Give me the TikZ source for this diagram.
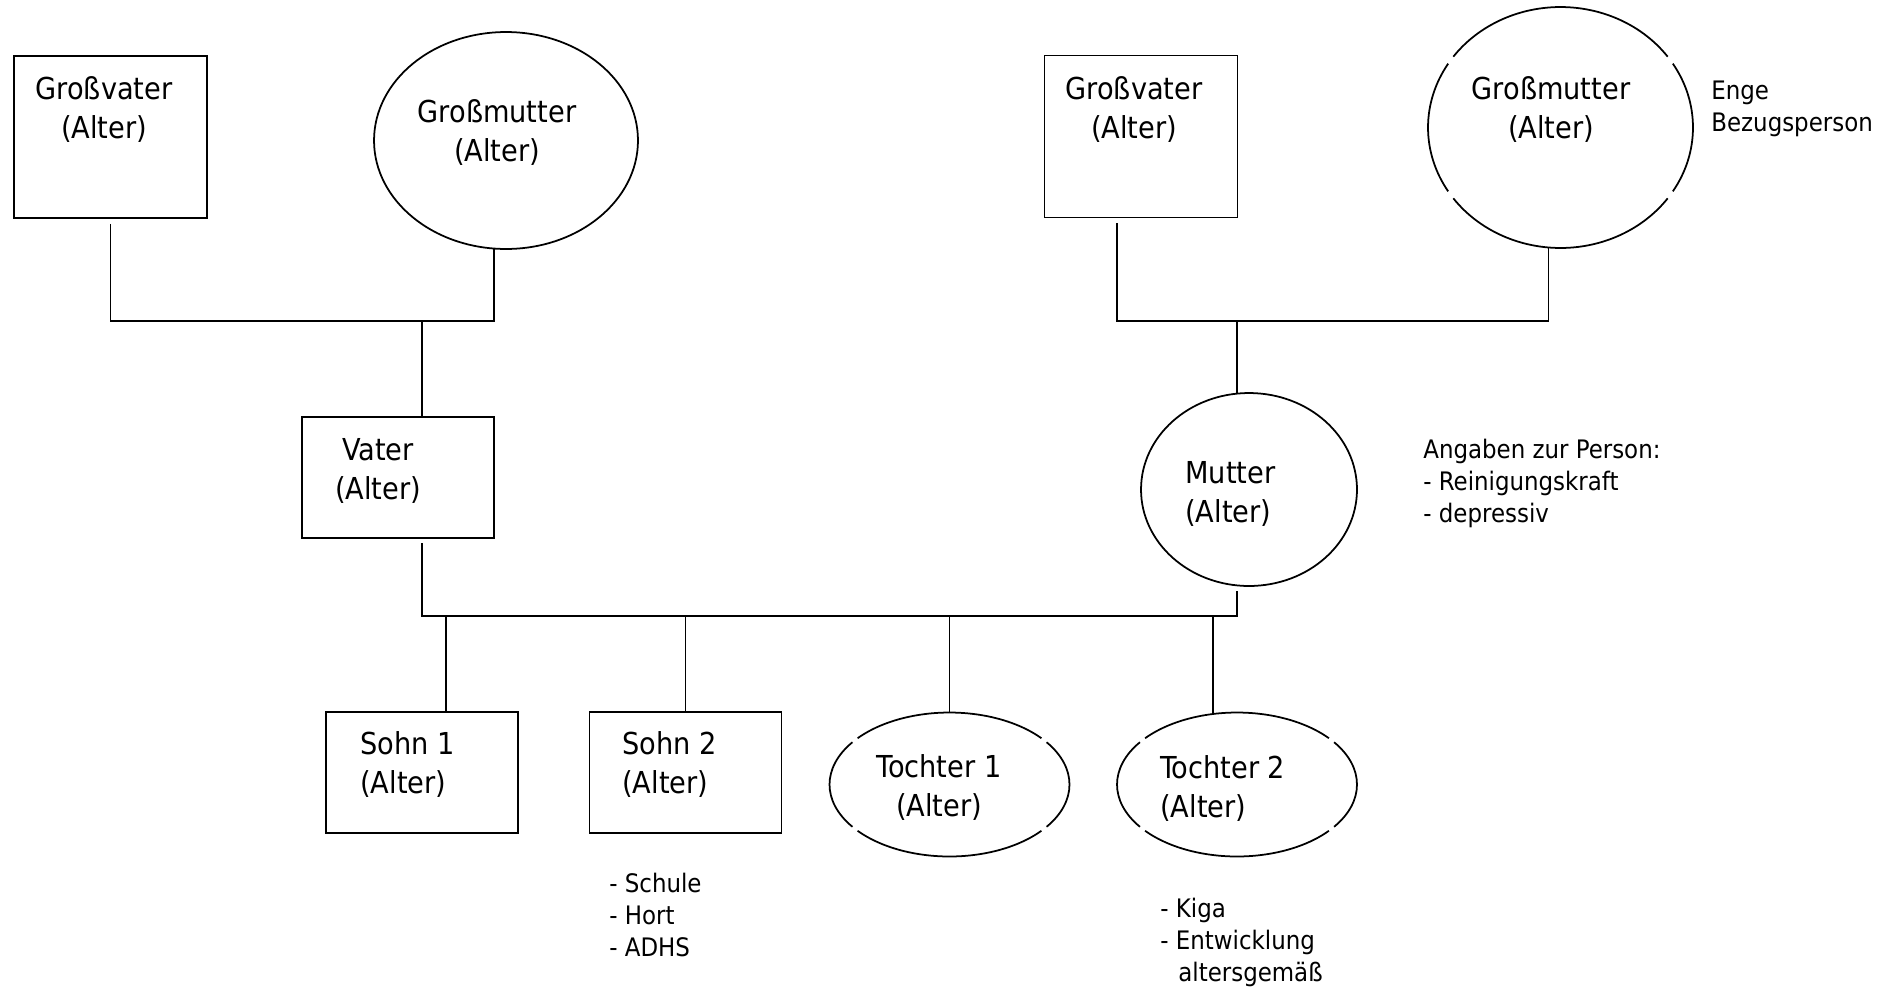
\documentclass[tikz,border=0pt]{standalone}
\usepackage{fontspec}
\setmainfont{DejaVu Sans Condensed}
\usetikzlibrary{shapes.geometric}

\newcommand{\namesize}{\fontsize{17.2}{22.2}\selectfont}
\newcommand{\notesize}{\fontsize{14.5}{18.2}\selectfont}
% ellipse drawn as four arcs with small gaps
\newcommand{\gapellipse}[5]{%
  \foreach \c/\w in {0/#4, 90/#5, 180/#4, 270/#5}
    \draw[oval line] (#1.center) ++({\c-\w}:#2 and #3)
      arc[start angle={\c-\w}, end angle={\c+\w}, x radius=#2, y radius=#3];
}

\begin{document}
\begin{tikzpicture}[x=0.02cm, y=-0.02cm,
    person box/.style={draw, line width=1pt, rectangle, inner sep=0pt, outer sep=0pt,
        minimum width=3.84cm, minimum height=2.42cm},
    grand box/.style={person box, minimum width=3.86cm, minimum height=3.24cm},
    person oval/.style={draw, line width=1pt, ellipse, inner sep=0pt, outer sep=0pt},
    open oval/.style={person oval, draw=none},
    oval line/.style={line width=1pt},
    who/.style={font=\namesize, align=center, anchor=base, inner sep=0pt},
    note/.style={font=\notesize, align=left, anchor=base west, inner sep=0pt},
    link/.style={line width=0.9pt}]
    \useasboundingbox (0,0) rectangle (1896,988);

    % Grosseltern vaterseits
    \node[grand box] (gv1) at (110.5,137) {};
    \node[person oval, minimum width=5.28cm, minimum height=4.34cm] (gm1) at (506,140.5) {};
    \node[who] (gv1 text) at (104,138) {Großvater\\(Alter)};
    \node[who] (gm1 text) at (497,161) {Großmutter\\(Alter)};

    % Grosseltern mutterseits
    \node[grand box] (gv2) at (1141,136.5) {};
    \node[open oval, minimum width=5.3cm, minimum height=4.82cm] (gm2) at (1560.5,127.5) {};
    \gapellipse{gm2}{2.65cm}{2.41cm}{32}{54}
    \node[who] (gv2 text) at (1134,138) {Großvater\\(Alter)};
    \node[who] (gm2 text) at (1551,138) {Großmutter\\(Alter)};
    \node[note] (enge) at (1711,131) {Enge\\Bezugsperson};

    % Eltern
    \node[person box] (vater) at (398,477.5) {};
    \node[person oval, minimum width=4.32cm, minimum height=3.86cm] (mutter) at (1249,489.5) {};
    \node[who] (vater text) at (378,499) {Vater\\(Alter)};
    \node[who, align=left, anchor=base west] (mutter text) at (1185,522) {Mutter\\(Alter)};
    \node[note] (angaben) at (1423,522) {Angaben zur Person:\\- Reinigungskraft\\- depressiv};

    % Kinder
    \node[person box] (s1) at (422,772.5) {};
    \node[person box] (s2) at (685.5,772.5) {};
    \node[open oval, minimum width=4.8cm, minimum height=2.88cm] (t1) at (949.5,784.5) {};
    \node[open oval, minimum width=4.8cm, minimum height=2.88cm] (t2) at (1237,784.5) {};
    \gapellipse{t1}{2.4cm}{1.44cm}{36}{50}
    \gapellipse{t2}{2.4cm}{1.44cm}{36}{50}
    \node[who, align=left, anchor=base west] (s1 text) at (360,793) {Sohn 1\\(Alter)};
    \node[who, align=left, anchor=base west] (s2 text) at (622,793) {Sohn 2\\(Alter)};
    \node[who] (t1 text) at (939,816) {Tochter 1\\(Alter)};
    \node[who, align=left, anchor=base west] (t2 text) at (1160,817) {Tochter 2\\(Alter)};
    \node[note] (s2 note) at (609,956) {- Schule\\- Hort\\- ADHS};
    \node[note] (t2 note) at (1160,981) {- Kiga\\- Entwicklung\\\hspace*{0.36cm}altersgemäß};

    % Linien
    \coordinate (gp1) at (300,321);
    \coordinate (gp2) at (1300,321);
    \coordinate (kids) at (830,616);
    \draw[link, shorten <=0.12cm] (gv1.south) |- (gp1) -| ([xshift=-0.24cm]gm1.south);
    \draw[link] ([xshift=0.48cm]vater.north) -- ([xshift=0.48cm]vater.north |- gp1);
    \draw[link, shorten <=0.12cm] ([xshift=-0.48cm]gv2.south) |- (gp2) -| ([xshift=-0.24cm]gm2.south);
    \draw[link] ([xshift=-0.24cm]mutter.north) -- ([xshift=-0.24cm]mutter.north |- gp2);
    \draw[link, shorten <=0.1cm, shorten >=0.1cm] ([xshift=0.48cm]vater.south) |- (kids) -| ([xshift=-0.24cm]mutter.south);
    \foreach \kid/\dx in {s1/0.48cm, s2/0cm, t1/0cm, t2/-0.48cm}
        \draw[link] ([xshift=\dx]\kid.north) -- ([xshift=\dx]\kid.north |- kids);
\end{tikzpicture}
\end{document}
